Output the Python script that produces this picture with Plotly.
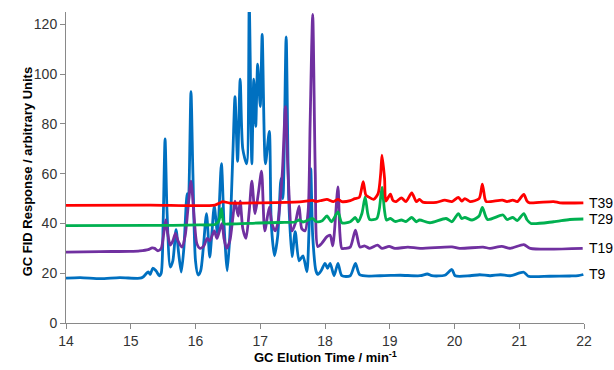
import plotly.graph_objects as go

# Retention times (min) and responses
t9_time = [14.00, 14.22, 14.53, 14.83, 15.14, 15.19, 15.27, 15.30, 15.34, 15.39, 15.44, 15.47, 15.50, 15.53,
           15.56, 15.61, 15.65, 15.70, 15.74, 15.78, 15.82, 15.87, 15.89, 15.93, 15.96, 16.00, 16.04, 16.08,
           16.12, 16.17, 16.22, 16.25, 16.29, 16.34, 16.40, 16.44, 16.49, 16.53, 16.58, 16.61, 16.65, 16.69,
           16.73, 16.79, 16.83, 16.87, 16.90, 16.93, 16.96, 17.00, 17.03, 17.08, 17.14, 17.17, 17.22, 17.27,
           17.32, 17.35, 17.40, 17.44, 17.49, 17.54, 17.60, 17.66, 17.72, 17.75, 17.78, 17.81, 17.86, 17.89,
           17.94, 18.00, 18.04, 18.08, 18.14, 18.20, 18.26, 18.39, 18.47, 18.54, 18.85, 19.16, 19.47, 19.58,
           19.65, 19.85, 19.96, 20.01, 20.24, 20.39, 20.55, 20.71, 20.86, 21.07, 21.14, 21.47, 21.78, 21.91, 21.99]
t9_resp = [18.0, 18.2, 17.8, 18.2, 18.0, 18.5, 20.5, 19.5, 22, 21, 19, 20, 40, 74,
           45, 22.5, 25, 37.5, 28, 20.5, 30, 52, 48, 93, 60, 25, 19.3, 21,
           30, 44, 26.5, 35, 47, 36, 64, 40, 21, 35, 70, 91, 65, 98,
           70, 64, 128, 64, 98, 79, 104, 87, 116, 64, 77, 40, 27, 35,
           58, 50, 115, 50, 26.7, 36.7, 25, 27, 20.6, 35, 62, 35, 21, 19.5,
           21, 24, 22, 24, 19, 24, 19, 19, 24, 19.3, 19, 19.2, 19, 19.7,
           19, 19.2, 21.5, 19, 19, 19.4, 19, 19.4, 19, 20.4, 18.8, 18.8, 18.9, 19, 19.5]

t19_time = [14.00, 14.53, 14.99, 15.14, 15.27, 15.33, 15.37, 15.42, 15.47, 15.51, 15.54, 15.57, 15.61, 15.65,
            15.69, 15.73, 15.79, 15.84, 15.88, 15.93, 15.98, 16.02, 16.07, 16.13, 16.18, 16.22, 16.29, 16.33,
            16.37, 16.41, 16.44, 16.48, 16.53, 16.58, 16.61, 16.66, 16.69, 16.73, 16.78, 16.83, 16.87, 16.92,
            16.97, 17.02, 17.07, 17.14, 17.18, 17.23, 17.27, 17.34, 17.39, 17.43, 17.49, 17.54, 17.60, 17.64,
            17.69, 17.74, 17.77, 17.81, 17.85, 17.89, 17.95, 18.03, 18.08, 18.12, 18.20, 18.23, 18.26, 18.31,
            18.39, 18.47, 18.54, 18.61, 18.69, 18.81, 18.88, 18.99, 19.08, 19.28, 19.47, 19.96, 20.08, 20.44,
            20.55, 20.73, 20.86, 21.07, 21.17, 21.98]
t19_resp = [28.5, 28.7, 28.8, 29.0, 29.5, 30.2, 30.0, 29.0, 30.0, 36, 41.4, 36, 31.3, 33,
            36, 33, 30.5, 35, 45, 57, 42, 32, 30, 31, 34, 33, 37, 34,
            37, 40, 34, 30, 33, 43, 49, 43, 49, 38, 34, 45, 57, 44,
            52, 61, 37, 46.6, 40, 37, 40, 60, 87, 60, 37, 40, 47, 38,
            37, 45, 80, 124, 60, 30.7, 32, 34.7, 35.3, 31, 54.7, 36, 30, 30,
            30.5, 37.3, 30.5, 31, 30, 31.3, 30, 30.8, 30, 30.5, 30, 30.6, 30, 30.5,
            30, 30.8, 30, 31.5, 30, 30]

t29_time = [14.00, 15.30, 16.07, 16.30, 16.36, 16.40, 16.44, 16.53, 16.97, 17.31, 17.54, 17.60, 17.66, 17.81,
            17.86, 17.95, 18.03, 18.10, 18.20, 18.26, 18.39, 18.47, 18.51, 18.57, 18.62, 18.66, 18.69, 18.80,
            18.84, 18.88, 18.92, 18.95, 19.01, 19.08, 19.18, 19.25, 19.34, 19.41, 19.46, 19.62, 19.87, 19.96,
            20.06, 20.11, 20.16, 20.27, 20.38, 20.43, 20.51, 20.75, 20.81, 20.90, 20.97, 21.07, 21.12, 21.18,
            21.53, 21.78, 21.99]
t29_resp = [39.1, 39.2, 39.4, 39.6, 41, 46, 40, 39.8, 40.2, 40.4, 40.6, 41.4, 40.6, 42,
            40.8, 41, 43, 40.7, 44.7, 40.3, 40.7, 42.4, 40.7, 44, 50.7, 44, 41.6, 42,
            46, 54.5, 45, 41.4, 42, 40.8, 41.4, 40.8, 42.4, 40.7, 41.4, 40.3, 42, 40.7,
            44, 42, 42.4, 41.4, 43, 46.5, 41.6, 43.4, 41.6, 42.4, 41.2, 44, 41.5, 40,
            40.7, 41.6, 41.8]

t39_time = [14.00, 15.30, 16.30, 16.38, 16.42, 16.53, 17.00, 17.61, 17.81, 17.86, 17.95, 18.03, 18.13, 18.20,
            18.26, 18.39, 18.46, 18.53, 18.59, 18.63, 18.67, 18.75, 18.82, 18.86, 18.88, 18.92, 18.94, 19.01,
            19.05, 19.10, 19.18, 19.25, 19.34, 19.41, 19.46, 19.51, 19.72, 19.85, 19.96, 20.06, 20.11, 20.16,
            20.24, 20.38, 20.43, 20.47, 20.49, 20.74, 20.81, 20.90, 20.97, 21.07, 21.12, 21.16, 21.53, 21.63, 21.99]
t39_resp = [47.3, 47.4, 47.4, 48.3, 48.8, 48.2, 48.3, 48.7, 49.3, 48.8, 49.3, 49.7, 48.8, 49.7,
            48.8, 49.2, 50, 50.5, 56.8, 51.5, 50.7, 49.7, 52, 60, 67.5, 58, 49, 51.8,
            49.2, 48.8, 50.3, 48.8, 52.3, 48.8, 49.7, 48.6, 48.5, 49.4, 48.8, 50.5, 49, 50,
            48.8, 50, 55.8, 50, 48.8, 49.4, 48.8, 49.4, 48.8, 51.7, 49, 48.3, 48.8, 48.3, 48.3]

series_names = ["T9", "T19", "T29", "T39"]
series_colors = ["#0070C0", "#7030A0", "#00B050", "#FF0000"]
x_ticks = [14, 15, 16, 17, 18, 19, 20, 21, 22]
y_ticks = [0, 20, 40, 60, 80, 100, 120]

data = [(t9_time, t9_resp), (t19_time, t19_resp), (t29_time, t29_resp), (t39_time, t39_resp)]

fig = go.Figure()
for (tx, ry), name, col in zip(data, series_names, series_colors):
    fig.add_trace(go.Scatter(x=tx, y=ry, mode="lines", name=name,
                             line=dict(color=col, width=2.8, shape="spline", smoothing=0.7)))
    fig.add_annotation(x=22, y=ry[-1], xref="x", yref="y", text=name, showarrow=False,
                       xanchor="left", yanchor="middle", xshift=3,
                       font=dict(family="Liberation Sans, Arial", size=14, color="#000000"))

axis_font = dict(family="Liberation Sans, Arial", size=14, color="#333333")
fig.update_layout(
    width=614, height=370,
    margin=dict(l=66, r=30, t=12, b=47),
    paper_bgcolor="white", plot_bgcolor="white",
    showlegend=False,
    xaxis=dict(range=[14, 22], tickvals=x_ticks, showgrid=False, zeroline=False,
               showline=True, linecolor="#898989", linewidth=1,
               ticks="outside", ticklen=5, tickcolor="#898989", tickfont=axis_font),
    yaxis=dict(range=[0, 125], tickvals=y_ticks, showgrid=False, zeroline=False,
               showline=True, linecolor="#898989", linewidth=1,
               ticks="outside", ticklen=5, tickcolor="#898989", tickfont=axis_font),
)
fig.add_annotation(x=0.5, y=-34 / 311, xref="paper", yref="paper", yanchor="middle",
                   text="<b>GC Elution Time / min<sup>-1</sup></b>", showarrow=False,
                   font=dict(family="Liberation Sans, Arial", size=13, color="#000000"))
fig.add_annotation(x=-48 / 518, y=0.486, xref="paper", yref="paper", textangle=-90,
                   text="<b>GC FID Response / arbitrary Units</b>", showarrow=False,
                   font=dict(family="Liberation Sans, Arial", size=13, color="#000000"))

fig.write_html("out.html")
